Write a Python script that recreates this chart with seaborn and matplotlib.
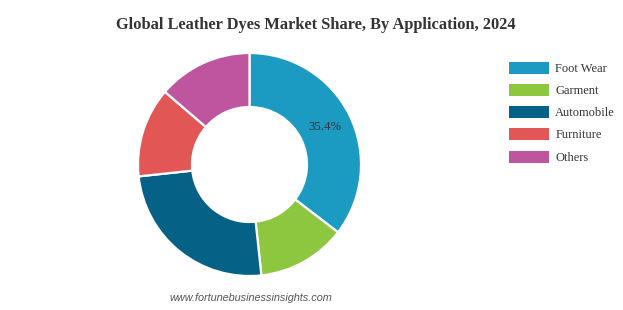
import matplotlib
matplotlib.use("Agg")
import matplotlib.pyplot as plt
import seaborn as sns
import numpy as np
from matplotlib.patches import Patch

sns.set_theme(style="white")
plt.rcParams['font.family'] = ['Liberation Serif', 'DejaVu Serif']

# Data
categories = ["Foot Wear", "Garment", "Automobile", "Furniture", "Others"]
shares = [35.4, 12.9, 25.0, 13.0, 13.7]
colors = ["#1b9ac2", "#8dc63f", "#066186", "#e35656", "#bf559e"]
shown_labels = ["35.4%", "", "", "", ""]
title = "Global Leather Dyes Market Share, By Application, 2024"
watermark = "www.fortunebusinessinsights.com"

W, H = 623, 310
fig = plt.figure(figsize=(W / 100, H / 100), dpi=100)
fig.patch.set_facecolor("white")

cx, cy, R = 249.5, 310 - 164.5, 111.5
ax = fig.add_axes([(cx - R) / W, (cy - R) / H, 2 * R / W, 2 * R / H])
inner = 57.5 / R
wedges, texts = ax.pie(
    shares, colors=colors, startangle=90, counterclock=False, radius=1,
    wedgeprops=dict(width=1 - inner, edgecolor="white", linewidth=1.6),
    labels=shown_labels, labeldistance=None,
)
cum = np.cumsum([0] + shares)
mid_r = (1 + inner) / 2
for i, lab in enumerate(shown_labels):
    if lab:
        ang = np.deg2rad(90 - 360 * (cum[i] + shares[i] / 2) / 100)
        ax.text(mid_r * np.cos(ang), mid_r * np.sin(ang), lab, ha="center", va="center",
                fontsize=9.2, color="#333333")
ax.set_xlim(-1, 1)
ax.set_ylim(-1, 1)
ax.set_aspect("equal")
ax.axis("off")

fig.text(316 / W, 1 - 25 / H, title, ha="center", va="center", fontsize=11.8,
         fontweight="bold", color="#333333")
fig.text(251 / W, 1 - 298 / H, watermark, ha="center", va="center", fontsize=7.8,
         style="italic", color="#555555", family=["Liberation Sans", "DejaVu Sans"])

handles = [Patch(facecolor=c, edgecolor="none") for c in colors]
fig.legend(handles, categories, loc="upper left", bbox_to_anchor=(509 / W, 1 - 61.5 / H),
           frameon=False, borderpad=0, borderaxespad=0, fontsize=9,
           handlelength=3.2, handleheight=1.1, handletextpad=0.5, labelspacing=0.72,
           labelcolor="#333333")

fig.savefig("out.png", dpi=100, facecolor="white")
